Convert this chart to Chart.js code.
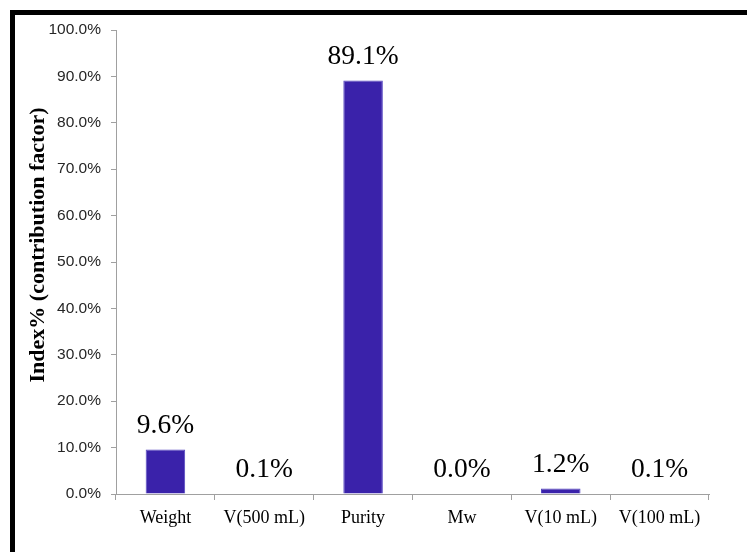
<!DOCTYPE html>
<html>
<head>
<meta charset="utf-8">
<script src="https://cdn.jsdelivr.net/npm/chart.js@4"></script>
<style>
  html, body { margin: 0; padding: 0; background: #fff; }
  #wrap { position: relative; width: 747px; height: 552px; overflow: hidden; }
  #frame { position: absolute; left: 10px; top: 10px; width: 800px; height: 600px;
           border-left: 5px solid #000; border-top: 5px solid #000; }
  canvas { position: absolute; left: 0; top: 0; }
</style>
</head>
<body>
<div id="wrap">
  <div id="frame"></div>
  <canvas id="c" width="747" height="552"></canvas>
</div>
<script>
const categories = ['Weight', 'V(500 mL)', 'Purity', 'Mw', 'V(10 mL)', 'V(100 mL)'];
const contribution = [9.6, 0.1, 89.1, 0.0, 1.2, 0.1];
const yTitle = 'Index% (contribution factor)';

const valueLabels = {
  id: 'valueLabels',
  afterDatasetsDraw(chart) {
    const ctx = chart.ctx;
    const meta = chart.getDatasetMeta(0);
    const ys = chart.scales.y;
    ctx.save();
    ctx.font = '27.5px "Liberation Serif", "Times New Roman", serif';
    ctx.fillStyle = '#000';
    ctx.textAlign = 'center';
    ctx.textBaseline = 'middle';
    meta.data.forEach((bar, i) => {
      const v = contribution[i];
      const top = ys.getPixelForValue(v);
      ctx.fillText(v.toFixed(1) + '%', bar.x, top - 24);
    });
    ctx.restore();
  }
};

const yTitlePlugin = {
  id: 'yTitlePlugin',
  afterDraw(chart) {
    const ctx = chart.ctx;
    const a = chart.chartArea;
    ctx.save();
    ctx.translate(38, (a.top + a.bottom) / 2 - 17);
    ctx.rotate(-Math.PI / 2);
    ctx.font = 'bold 22px "Liberation Serif", "Times New Roman", serif';
    ctx.fillStyle = '#000';
    ctx.textAlign = 'center';
    ctx.textBaseline = 'middle';
    ctx.fillText(yTitle, 0, 0);
    ctx.restore();
  }
};

new Chart(document.getElementById('c'), {
  type: 'bar',
  data: {
    labels: categories,
    datasets: [{
      data: contribution,
      backgroundColor: '#3a22aa',
      borderColor: '#5546c0',
      borderWidth: 1,
      categoryPercentage: 1.0,
      barPercentage: 0.4
    }]
  },
  options: {
    responsive: false,
    animation: false,
    devicePixelRatio: 1,
    layout: { padding: { left: 0, right: 38, top: 30, bottom: 0 } },
    plugins: { legend: { display: false }, tooltip: { enabled: false } },
    scales: {
      x: {
        grid: { display: true, offset: true, drawOnChartArea: false, drawTicks: true,
                tickLength: 6, color: '#a0a0a0' },
        border: { display: true, color: '#a0a0a0', width: 1 },
        ticks: { color: '#000', padding: 7, maxRotation: 0, autoSkip: false,
                 font: { family: '"Liberation Serif", "Times New Roman", serif', size: 18 } },
        afterFit(s) { s.height = 58; }
      },
      y: {
        min: 0, max: 100,
        grid: { display: true, drawOnChartArea: false, drawTicks: true, tickLength: 5,
                color: '#a0a0a0' },
        border: { display: true, color: '#a0a0a0', width: 1 },
        ticks: { stepSize: 10, color: '#262626', padding: 10,
                 font: { family: '"Liberation Sans", Arial, sans-serif', size: 15.5 },
                 callback: v => Number(v).toFixed(1) + '%' },
        afterFit(s) { s.width = 116; }
      }
    }
  },
  plugins: [valueLabels, yTitlePlugin]
});
</script>
</body>
</html>
